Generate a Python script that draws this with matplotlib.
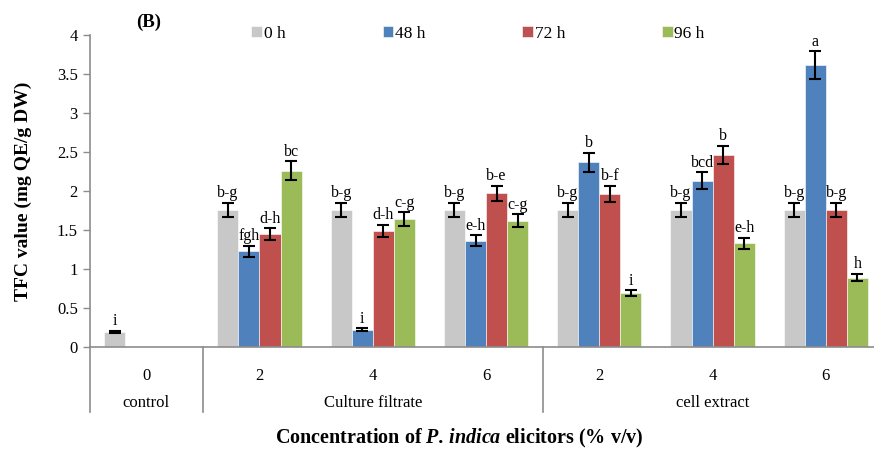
import numpy as np
import matplotlib
matplotlib.use("Agg")
import matplotlib.pyplot as plt
import matplotlib.transforms as mtransforms

plt.rcParams['font.family'] = ['Liberation Serif', 'DejaVu Serif']
plt.rcParams['mathtext.fontset'] = 'custom'
plt.rcParams['mathtext.rm'] = 'Liberation Serif'
plt.rcParams['mathtext.bf'] = 'Liberation Serif:bold'
plt.rcParams['mathtext.it'] = 'Liberation Serif:italic'
plt.rcParams['mathtext.bfit'] = 'Liberation Serif:bold:italic'

# data
conc_labels = ['0', '2', '4', '6', '2', '4', '6']
cat_labels = ['control', 'Culture filtrate', 'cell extract']
cat_spans = [(0, 0), (1, 3), (4, 6)]
series = ['0 h', '48 h', '72 h', '96 h']
colors = ['#C8C8C8', '#4F81BD', '#C0504D', '#9BBB59']

h0 = [0.19, 1.76, 1.76, 1.76, 1.76, 1.76, 1.76]
h48 = [0.0, 1.23, 0.22, 1.36, 2.37, 2.13, 3.61]
h72 = [0.0, 1.45, 1.49, 1.97, 1.96, 2.46, 1.76]
h96 = [0.0, 2.26, 1.64, 1.62, 0.69, 1.33, 0.89]

e0 = [0.015, 0.09, 0.09, 0.09, 0.09, 0.09, 0.09]
e48 = [0.0, 0.07, 0.02, 0.07, 0.12, 0.11, 0.18]
e72 = [0.0, 0.075, 0.08, 0.10, 0.105, 0.12, 0.09]
e96 = [0.0, 0.12, 0.085, 0.08, 0.04, 0.07, 0.05]

l0 = ['i', 'b-g', 'b-g', 'b-g', 'b-g', 'b-g', 'b-g']
l48 = ['', 'fgh', 'i', 'e-h', 'b', 'bcd', 'a']
l72 = ['', 'd-h', 'd-h', 'b-e', 'b-f', 'b', 'b-g']
l96 = ['', 'bc', 'c-g', 'c-g', 'i', 'e-h', 'h']

values = [h0, h48, h72, h96]
errors = [e0, e48, e72, e96]
letters = [l0, l48, l72, l96]

fig = plt.figure(figsize=(8.74, 4.70), dpi=100)
ax = fig.add_axes([0.1025, 0.2617, 0.8975, 0.6638])

x = np.arange(len(conc_labels))
w = 0.186
grey = '#8C8C8C'

for i, (vals, errs, lets) in enumerate(zip(values, errors, letters)):
    vals = np.array(vals)
    errs = np.array(errs)
    pos = x + (i - 1.5) * w
    mask = vals > 0
    ax.bar(pos[mask], vals[mask], width=w, color=colors[i], edgecolor='white',
           linewidth=0.4, label=series[i], zorder=2)
    ax.errorbar(pos[mask], vals[mask], yerr=errs[mask], fmt='none', ecolor='black',
                elinewidth=1.5, capsize=4, capthick=1.5, zorder=3)
    for p, v, e, t in zip(pos[mask], vals[mask], errs[mask], np.array(lets)[mask]):
        ax.annotate(t, (p, v + e), xytext=(0, 4), textcoords='offset points',
                    ha='center', va='baseline', fontsize=11.5)

ax.set_ylim(0, 4)
ax.set_xlim(-0.5, 6.425)
ax.set_yticks(np.arange(0, 4.01, 0.5))
ax.set_yticklabels(['0', '0.5', '1', '1.5', '2', '2.5', '3', '3.5', '4'])
ax.tick_params(axis='y', labelsize=12, color=grey, length=5, width=1)
ax.set_xticks([])
for s in ['top', 'right']:
    ax.spines[s].set_visible(False)
for s in ['left', 'bottom']:
    ax.spines[s].set_color(grey)
    ax.spines[s].set_linewidth(1.2)

trans = mtransforms.blended_transform_factory(ax.transData, ax.transAxes)
for xi, lab in zip(x, conc_labels):
    ax.text(xi, -0.093, lab, transform=trans, ha='center', va='center', fontsize=12)
for (a, b), lab in zip(cat_spans, cat_labels):
    ax.text((a + b) / 2, -0.18, lab, transform=trans, ha='center', va='center', fontsize=12)
for xb in [-0.5, 0.5, 3.5]:
    ax.plot([xb, xb], [0, -0.208], transform=trans, color=grey, lw=1.2, clip_on=False)

ax.set_ylabel('TFC value (mg QE/g DW)', fontsize=14, fontweight='bold')
ax.yaxis.set_label_coords(-0.074, 0.5)
fig.text(0.526, 0.068, r'Concentration of $\mathbfit{P.\,indica}$ elicitors (% v/v)',
         ha='center', va='center', fontsize=14.5, fontweight='bold')
fig.text(0.17, 0.953, '(B)', ha='center', va='center', fontsize=13.5, fontweight='bold')

fig.legend(loc='center', bbox_to_anchor=(0.547, 0.928), ncol=4, frameon=False,
           fontsize=12.5, handlelength=0.6, handleheight=0.6, handletextpad=0.1,
           columnspacing=5.6)

fig.savefig('out.png', dpi=100)
